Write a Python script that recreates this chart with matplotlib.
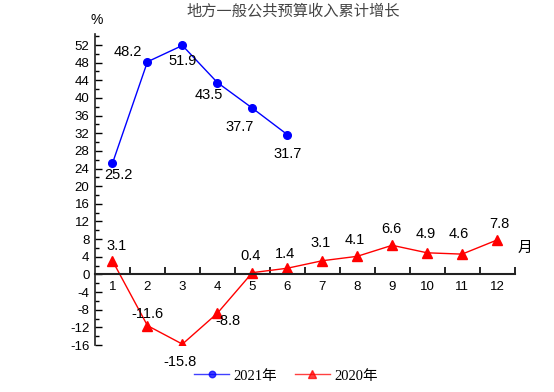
import matplotlib
matplotlib.use("Agg")
from matplotlib import pyplot as plt
from matplotlib.ticker import MultipleLocator

plt.rcParams['font.family'] = ['Liberation Sans', 'Noto Sans CJK SC', 'DejaVu Sans']
plt.rcParams['axes.unicode_minus'] = False

months = list(range(1, 13))
month_labels = [str(m) for m in months]
y2021 = [25.2, 48.2, 51.9, 43.5, 37.7, 31.7]
y2020 = [3.1, -11.6, -15.8, -8.8, 0.4, 1.4, 3.1, 4.1, 6.6, 4.9, 4.6, 7.8]

# label offsets in pixels (dx, dy), dy positive = up
off2021 = [(6, -12), (-20, 10), (0, -16), (-9, -12), (-13, -19), (0, -19)]
off2020 = [(4, 15), (0, 12), (-2, -18), (11, -8), (-2, 17), (-2, 14),
           (-2, 18), (-2, 16), (-1, 16), (-1, 19), (-3, 20), (2, 16)]

fig = plt.figure(figsize=(5.54, 3.92), dpi=100)
ax = fig.add_axes([95 / 554, 1 - 345 / 392, 419.5 / 554, 311 / 392])

l1, = ax.plot(months[:len(y2021)], y2021, color='#0000FF', lw=1, marker='o',
              markersize=5.5, label='2021年')
l2, = ax.plot(months, y2020, color='#FF0000', lw=1, marker='^',
              markersize=6.5, label='2020年')

for x, v, (dx, dy) in zip(months, y2021, off2021):
    ax.annotate(f'{v:.1f}', (x, v), xytext=(dx, dy), textcoords='offset pixels',
                ha='center', va='center', fontsize=10.5, color='black')
for x, v, (dx, dy) in zip(months, y2020, off2020):
    ax.annotate(f'{v:.1f}', (x, v), xytext=(dx, dy), textcoords='offset pixels',
                ha='center', va='center', fontsize=10.5, color='black')

ax.set_xlim(0.5, 12.5)
ax.set_ylim(-16, 54.5)
ax.spines['top'].set_visible(False)
ax.spines['right'].set_visible(False)
ax.spines['bottom'].set_position(('data', 0))
ax.spines['bottom'].set_linewidth(1.5)
ax.spines['left'].set_linewidth(1.2)
ax.spines['bottom'].set_color('#222222')
ax.spines['left'].set_color('#222222')

ax.set_xticks(months)
ax.set_xticklabels(month_labels)
ax.set_xticks([m + 0.5 for m in months], minor=True)
ax.tick_params(axis='x', which='major', length=0, pad=5, labelsize=9.5)
ax.tick_params(axis='x', which='minor', length=5, direction='in', width=1.2)

ax.yaxis.set_major_locator(MultipleLocator(4))
ax.yaxis.set_minor_locator(MultipleLocator(2))
ax.set_yticks(range(-16, 53, 4))
ax.tick_params(axis='y', which='major', length=5, direction='in', pad=4, labelsize=9.5, width=1)
ax.tick_params(axis='y', which='minor', length=3, direction='in', width=1)

fig.text(293 / 554, 1 - 11 / 392, '地方一般公共预算收入累计增长', ha='center', va='center',
         fontsize=11, color='#444444', family=['Noto Sans CJK SC'])
fig.text(97 / 554, 1 - 20 / 392, '%', ha='center', va='center', fontsize=10)
fig.text(525 / 554, 1 - 248 / 392, '月', ha='center', va='center', fontsize=10.5,
         family=['Noto Sans CJK SC'])

leg = fig.legend(handles=[l1, l2], loc='center', bbox_to_anchor=(286 / 554, 1 - 376 / 392),
                 ncol=2, frameon=False, handlelength=2.4, columnspacing=1.2,
                 handletextpad=0.3, markerscale=0.85,
                 prop={'family': ['Liberation Serif', 'Noto Sans CJK SC'], 'size': 10.5})
for h in leg.get_lines():
    h.set_alpha(0.75)

fig.savefig('out.png', dpi=100)
